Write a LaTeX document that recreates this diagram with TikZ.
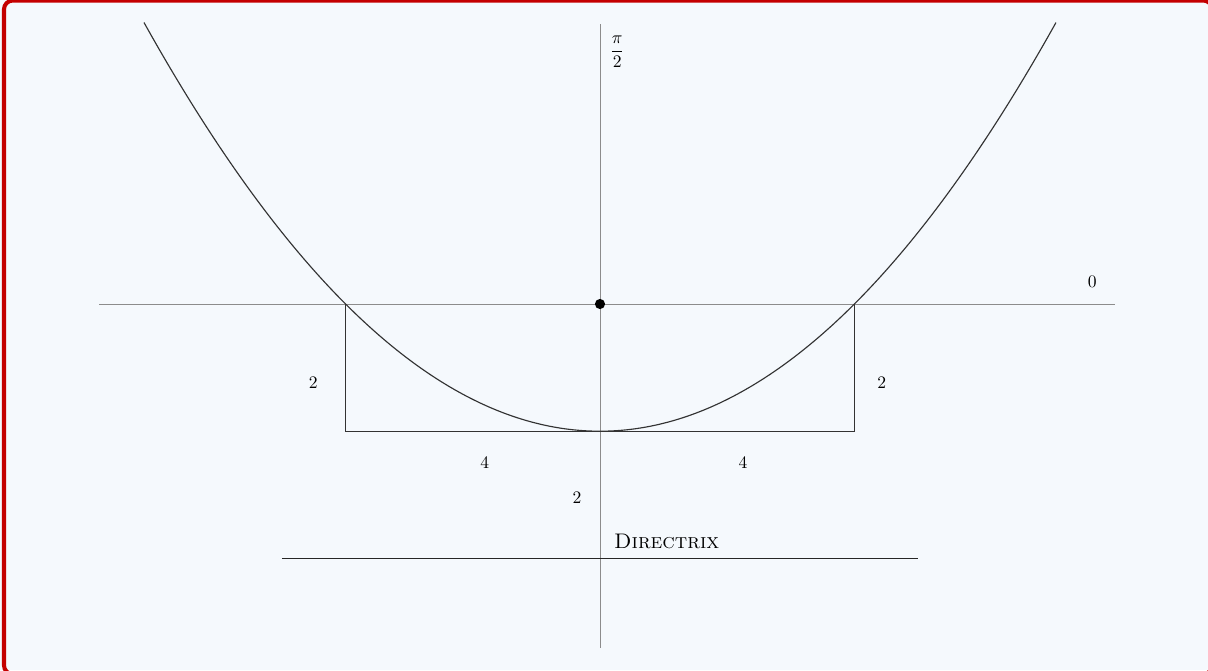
\documentclass[tikz,border=0pt]{standalone}
\usetikzlibrary{calc}
\definecolor{bgblue}{HTML}{F5F9FD}
\definecolor{framered}{HTML}{C40000}
\begin{document}
\begin{tikzpicture}[x=1.272cm,y=1.272cm,
  axisline/.style={draw=black!45,line width=0.5pt},
  curveline/.style={draw=black!80,line width=0.65pt},
  lbl/.style={inner sep=1pt,font=\normalsize}]
% background and frame (1 unit = 63.6 px, origin at px (600,304))
\fill[bgblue] (-9.434,4.780) rectangle (9.560,-5.755);
\useasboundingbox (-9.434,4.780) rectangle (9.560,-5.755);
\begin{scope}
\clip (-9.434,4.780) rectangle (9.560,-5.755);
\draw[framered,line width=2.3pt,rounded corners=5pt] (-9.371,4.772) rectangle (9.625,-5.82);
\end{scope}
% axes
\coordinate (xl) at (-7.877,0);
\coordinate (xr) at (8.097,0);
\coordinate (yt) at (0,4.40);
\coordinate (yb) at (0,-5.41);
\draw[axisline] (xl) -- (xr);
\draw[axisline] (yt) -- (yb);
% parabola y = x^2/8 - 2
\draw[curveline,domain=-7.17:7.17,samples=120,smooth] plot (\x,{\x*\x/8-2});
% rectangle
\coordinate (A) at (-4,0);
\coordinate (B) at (-4,-2);
\coordinate (V) at (0,-2);
\coordinate (C) at (4,-2);
\coordinate (D) at (4,0);
\draw[curveline] (A) -- (B) -- (V) -- (C) -- (D);
% directrix
\coordinate (dl) at (-5,-4);
\coordinate (dr) at (5,-4);
\draw[draw=black!85,line width=0.7pt] (dl) -- (dr);
% focus
\fill (0,0) circle (0.08) node (F) {};
% labels
\node[lbl] (l2a) at (-4.51,-1.24) {2};
\node[lbl] (l2b) at (4.43,-1.24) {2};
\node[lbl] (l4a) at (-1.81,-2.50) {4};
\node[lbl] (l4b) at (2.25,-2.50) {4};
\node[lbl] (l2c) at (-0.36,-3.05) {2};
\node[lbl,font=\large] (ldir) at (1.05,-3.73) {\textsc{Directrix}};
\node[lbl] (l0) at (7.74,0.35) {0};
\node[lbl] (lpi) at (0.27,3.96) {$\displaystyle\frac{\pi}{2}$};
\end{tikzpicture}
\end{document}
